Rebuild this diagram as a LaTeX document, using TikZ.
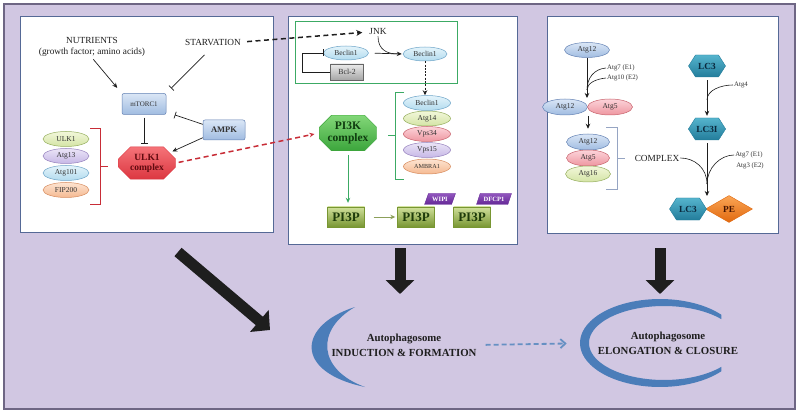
\documentclass[tikz,border=0pt]{standalone}
\usepackage{fontspec}
\setmainfont{Liberation Serif}
\usetikzlibrary{arrows.meta,shapes.geometric,shapes.misc,shapes.symbols,calc}
\newcommand{\fsz}[1]{\fontsize{#1}{#1}\selectfont}
\definecolor{bgc}{RGB}{209,199,226}
\definecolor{framec}{RGB}{110,102,132}
\definecolor{panelc}{RGB}{85,105,150}
\definecolor{txtc}{RGB}{50,50,50}
\definecolor{gA}{RGB}{242,247,218}\definecolor{gB}{RGB}{212,228,165}\definecolor{gD}{RGB}{150,175,95}
\definecolor{lvA}{RGB}{235,228,247}\definecolor{lvB}{RGB}{198,184,230}\definecolor{lvD}{RGB}{150,130,190}
\definecolor{blA}{RGB}{228,244,251}\definecolor{blB}{RGB}{178,219,238}\definecolor{blD}{RGB}{110,165,200}
\definecolor{peA}{RGB}{253,228,210}\definecolor{peB}{RGB}{245,185,145}\definecolor{peD}{RGB}{215,140,95}
\definecolor{piA}{RGB}{252,212,218}\definecolor{piB}{RGB}{238,150,160}\definecolor{piD}{RGB}{200,100,110}
\definecolor{dbA}{RGB}{218,230,246}\definecolor{dbB}{RGB}{160,188,225}\definecolor{dbD}{RGB}{100,130,180}
\definecolor{redc}{RGB}{200,45,55}
\definecolor{ulkA}{RGB}{245,115,120}\definecolor{ulkB}{RGB}{220,55,65}\definecolor{ulkT}{RGB}{95,10,15}
\definecolor{grc}{RGB}{60,170,100}
\definecolor{pkA}{RGB}{130,215,120}\definecolor{pkB}{RGB}{60,165,60}\definecolor{pkT}{RGB}{15,60,15}
\definecolor{olA}{RGB}{208,224,155}\definecolor{olB}{RGB}{120,150,50}\definecolor{olT}{RGB}{30,60,10}\definecolor{olc}{RGB}{140,160,90}
\definecolor{puA}{RGB}{145,85,190}\definecolor{puB}{RGB}{100,40,150}
\definecolor{tlA}{RGB}{85,180,205}\definecolor{tlB}{RGB}{35,125,155}\definecolor{tlT}{RGB}{10,40,60}
\definecolor{orA}{RGB}{250,165,85}\definecolor{orB}{RGB}{225,105,15}\definecolor{orT}{RGB}{70,20,0}
\definecolor{crc}{RGB}{75,125,185}
\definecolor{darkc}{RGB}{30,30,30}
\definecolor{brc}{RGB}{150,165,195}
\begin{document}
\begin{tikzpicture}[x=1pt,y=-1pt,
  lbl/.style={font=\fontsize{9.3}{11}\selectfont, inner sep=1pt, text=darkc},
  small/.style={font=\fsz{6.8}, inner sep=1pt, text=txtc},
  ell/.style={ellipse, inner sep=0pt, minimum width=46pt, minimum height=15pt, font=\fsz{7.5}, text=txtc, line width=0.5pt},
  egreen/.style={ell, top color=gA, bottom color=gB, draw=gD},
  elav/.style={ell, top color=lvA, bottom color=lvB, draw=lvD},
  eblue/.style={ell, top color=blA, bottom color=blB, draw=blD},
  epeach/.style={ell, top color=peA, bottom color=peB, draw=peD},
  epink/.style={ell, top color=piA, bottom color=piB, draw=piD},
  edb/.style={ell, top color=dbA, bottom color=dbB, draw=dbD},
  bluebox/.style={rectangle, rounded corners=2pt, top color=dbA, bottom color=dbB, draw=dbD, line width=0.5pt, minimum width=44pt, minimum height=21pt, font=\fsz{7}, text=txtc},
  graybox/.style={rectangle, top color=black!8, bottom color=black!35, draw=black!60, line width=0.6pt, minimum width=33pt, minimum height=16pt, font=\fsz{7.8}, text=txtc},
  octo/.style={chamfered rectangle, chamfered rectangle xsep=6pt, chamfered rectangle ysep=6pt, minimum width=57pt, minimum height=28pt, inner sep=1pt, align=center},
  ulkbox/.style={octo, top color=ulkA, bottom color=ulkB, draw=ulkB, text=ulkT, font=\bfseries\fontsize{9.5}{10}\selectfont},
  pikbox/.style={octo, top color=pkA, bottom color=pkB, draw=pkB, text=pkT, font=\bfseries\fontsize{11.5}{11.5}\selectfont},
  pipbox/.style={rectangle, top color=olA, bottom color=olB, draw=olB, minimum width=37pt, minimum height=20pt, inner sep=0pt, text=olT, font=\bfseries\fsz{13}},
  purp/.style={trapezium, trapezium left angle=62, trapezium right angle=118, trapezium stretches=true, minimum width=31pt, minimum height=11pt, inner sep=0.5pt, top color=puA, bottom color=puB, draw=puB, text=white, font=\bfseries\fsz{6.5}},
  hexa/.style={signal, signal to=west and east, signal pointer angle=115, minimum width=37pt, minimum height=22pt, inner sep=1pt, top color=tlA, bottom color=tlB, draw=tlB, text=tlT, font=\bfseries\fsz{9.3}},
  dia/.style={diamond, aspect=1.75, minimum width=47pt, minimum height=27pt, inner sep=0pt, top color=orA, bottom color=orB, draw=orB, text=orT, font=\bfseries\fsz{9.3}},
  arr/.style={-{Stealth[length=5pt,width=4.5pt]}, line width=0.7pt, draw=darkc},
  inh/.style={-{Bar[width=7pt]}, line width=0.7pt, draw=darkc},
  thinl/.style={line width=0.6pt, draw=darkc},
  bigarr/.style={-{Triangle[length=14pt,width=28pt]}, line width=11pt, draw=darkc},
  panel/.style={fill=white, draw=panelc, line width=0.9pt},
  bigtxt/.style={align=center, font=\bfseries\fontsize{10.8}{15}\selectfont, text=darkc, inner sep=1pt}
]
\useasboundingbox (0,0) rectangle (800,414);
\fill[white] (0,0) rectangle (800,414);
\draw[fill=bgc, draw=framec, line width=1.3pt] (4,4) rectangle (795,409);
\draw[panel] (20,16) rectangle (273,232);
\draw[panel] (288,16) rectangle (517,244);
\draw[panel] (547,16) rectangle (778,233);
\draw[draw=grc, line width=1pt] (295,22) rectangle (457,84);

% ---------- panel 1
\node[lbl, align=center] (nut) at (92,47) {NUTRIENTS\\(growth factor; amino acids)};
\node[lbl] (starv) at (213,42) {STARVATION};
\node[bluebox] (mtor) at (144,104) {mTORC1};
\node[bluebox, minimum width=42pt, minimum height=20pt, font=\bfseries\fsz{8.5}] (ampk) at (224,130) {AMPK};
\node[ulkbox] (ulk) at (147,163) {ULK1\\complex};
\node[egreen] (ulk1) at (66,139) {ULK1};
\node[elav] (atg13) at (66,156) {Atg13};
\node[eblue] (atg101) at (66,173) {Atg101};
\node[epeach] (fip) at (66,190) {FIP200};
\draw[redc, line width=0.9pt] (90,128) -- (100,128) -- (100,204) -- (90,204) (100,166) -- (108,166);
\draw[arr, shorten <=2pt, shorten >=7pt] (nut.south) -- (mtor.north west);
\draw[inh, shorten <=12pt, shorten >=7pt] (starv.south) -- (mtor.north east);
\draw[inh, shorten >=9pt] (ampk.165) -- (mtor.-20);
\draw[arr, shorten >=3pt] (ampk.200) -- (ulk.north east);
\draw[inh, shorten <=3pt, shorten >=3pt] (mtor.south) -- (mtor.south |- ulk.north);

% ---------- panel 2
\node[lbl] (jnk) at (378,32) {JNK};
\node[eblue, minimum width=45pt, minimum height=14pt] (bec1) at (346,53) {Beclin1};
\node[graybox] (bcl) at (347,72) {Bcl-2};
\node[eblue, minimum width=44pt, minimum height=14pt] (bec2) at (425,54) {Beclin1};
\draw[inh] (bcl.west) -- ++(-28,0) |- (bec1.west);
\draw[arr, shorten <=6pt, shorten >=1pt] (bec1.east) -- (bec2.west);
\draw[thinl] (jnk.south) .. controls +(0,14) and +(-10,0) .. ($(bec2.west)+(-5,0)$);
\node[eblue, minimum width=47pt] (b1) at (427,103) {Beclin1};
\node[egreen, minimum width=47pt] (a14) at (427,118.5) {Atg14};
\node[epink, minimum width=47pt] (v34) at (427,134) {Vps34};
\node[elav, minimum width=47pt] (v15) at (427,150) {Vps15};
\node[epeach, minimum width=47pt, font=\fsz{6.2}] (amb) at (427,166.5) {AMBRA1};
\draw[arr, dash pattern=on 2pt off 1.3pt] (bec2.south) -- (bec2.south |- b1.north);
\draw[grc, line width=0.9pt] (404,92) -- (395,92) -- (395,179) -- (404,179) (395,135) -- (388,135);
\node[pikbox] (pi3k) at (348,133) {PI3K\\complex};
\draw[-{Stealth[length=5pt,width=4.5pt]}, draw=redc, line width=1.5pt, dash pattern=on 5pt off 3.5pt, shorten <=3pt, shorten >=5pt] (ulk.east) -- (pi3k.west);
\draw[-{Stealth[length=6pt,width=6pt]}, draw=darkc, line width=1.5pt, dash pattern=on 5pt off 3.5pt, shorten <=5pt, shorten >=6pt] (starv.east) -- (jnk.west);
\node[purp] (wipi) at (440,199) {WIPI};
\node[purp, minimum width=35pt] (dfcp) at (494,199) {DFCP1};
\node[pipbox] (p1) at (346,217) {PI3P};
\node[pipbox] (p2) at (416,217) {PI3P};
\node[pipbox] (p3) at (472,217) {PI3P};
\draw[-{Stealth[length=5pt,width=4.5pt]}, draw=grc, line width=0.8pt, shorten <=4pt, shorten >=4pt] (pi3k.south) -- (pi3k.south |- p1.north);
\draw[-{Stealth[length=5pt,width=4.5pt]}, draw=olc, line width=0.8pt, shorten <=9pt, shorten >=2pt] (p1.east) -- (p2.west);

% ---------- panel 3
\node[edb, minimum width=45pt] (a12) at (587,50) {Atg12};
\node[small, anchor=west] (e1) at (606,68) {Atg7 (E1)};
\node[small, anchor=west] (e2) at (606,78) {Atg10 (E2)};
\node[edb, minimum width=45pt, minimum height=16pt] (a12b) at (565,107) {Atg12};
\node[epink, minimum width=45pt, minimum height=16pt] (a5b) at (610,107) {Atg5};
\coordinate (j1) at (587,98);
\coordinate (m1) at (587,90);
\draw[arr] (a12.south) -- (j1);
\draw[thinl] (e1.west) .. controls +(-12,1) and +(0,-12) .. (m1);
\draw[thinl] (e2.west) .. controls +(-10,1) and +(0,-7) .. (m1);
\node[edb, minimum width=43pt, minimum height=16pt] (s12) at (588,142) {Atg12};
\node[epink, minimum width=43pt, minimum height=16pt] (s5) at (588,158) {Atg5};
\node[egreen, minimum width=45pt, minimum height=16pt] (s16) at (588,174) {Atg16};
\coordinate (j2) at (588,116);
\draw[arr, shorten >=5pt] (j2) -- (s12.north);
\draw[brc, line width=0.9pt] (606,127) -- (617,127) -- (617,189) -- (606,189) (617,158) -- (625,158);
\node[lbl] (cx) at (657,158) {COMPLEX};
\node[hexa] (lc3a) at (707,66) {LC3};
\node[small] (atg4) at (741,85) {Atg4};
\node[hexa] (lc3i) at (707,129) {LC3I};
\node[small] (e3) at (749,155) {Atg7 (E1)};
\node[small] (e4) at (750,166) {Atg3 (E2)};
\node[dia] (pe) at (729,209) {PE};
\node[hexa] (lc3b) at (688,209) {LC3};
\coordinate (m2) at (707,100);
\draw[arr, shorten <=3pt, shorten >=2pt] (lc3a.south) -- (lc3a.south |- lc3i.north);
\draw[thinl] (atg4.west) .. controls +(-12,0) and +(0,-10) .. (m2);
\coordinate (j3) at (707,196);
\coordinate (m3) at (707,184);
\draw[arr, shorten <=3pt] (lc3i.south) -- (j3);
\draw[thinl] (cx.east) .. controls +(14,0) and +(0,-16) .. (m3);
\draw[thinl] (e3.west) .. controls +(-14,0) and +(0,-16) .. (m3);

% ---------- bottom
\coordinate (d1s) at (178,252); \coordinate (d1e) at (270,330);
\coordinate (d2s) at (400,248); \coordinate (d2e) at (400,294);
\coordinate (d3s) at (660,248); \coordinate (d3e) at (660,294);
\draw[bigarr] (d1s) -- (d1e);
\draw[bigarr] (d2s) -- (d2e);
\draw[bigarr] (d3s) -- (d3e);
\fill[crc] (355,307) .. controls (298,325) and (293,372) .. (365,387) .. controls (318,370) and (315,330) .. (355,307) -- cycle;
\fill[crc] plot[domain=40:320, samples=80] ({660+80*cos(\x)},{343+44*sin(\x)}) -- plot[domain=320:40, samples=80] ({664+75*cos(\x)},{343+37*sin(\x)}) -- cycle;
\node[bigtxt] (ind) at (404,345) {Autophagosome\\INDUCTION \& FORMATION};
\node[bigtxt] (elo) at (668,343) {Autophagosome\\ELONGATION \& CLOSURE};
\draw[-{Straight Barb[length=5pt,width=9pt]}, draw=crc!85!white, line width=1.8pt, dash pattern=on 5pt off 3pt, shorten <=8pt, shorten >=30pt] (ind.east) -- (elo.west);
\end{tikzpicture}
\end{document}
